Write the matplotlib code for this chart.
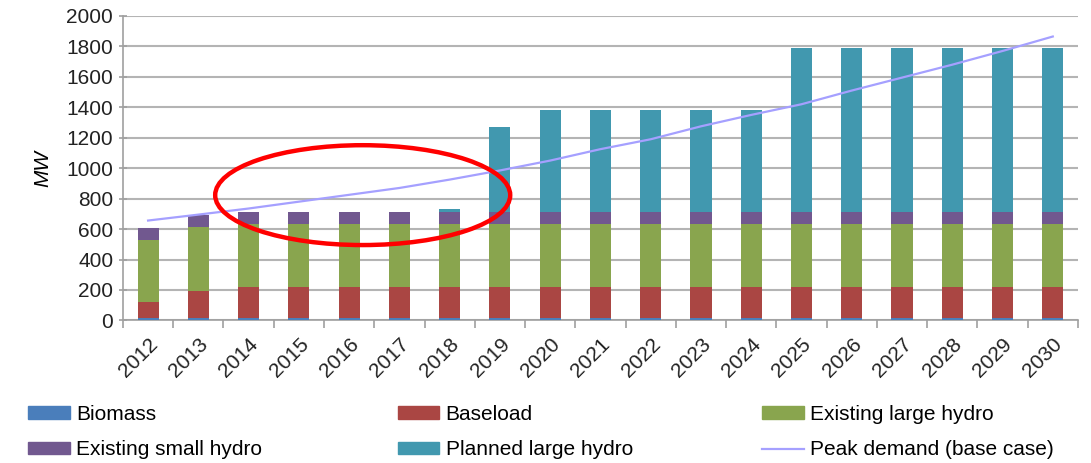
import numpy as np
import matplotlib
matplotlib.use("Agg")
import matplotlib.pyplot as plt
import matplotlib.transforms as mtrans
from matplotlib.patches import Ellipse, Patch
from matplotlib.lines import Line2D

plt.rcParams['font.family'] = ['Liberation Sans', 'DejaVu Sans']

# data (MW)
years = [str(y) for y in range(2012, 2031)]
biomass = [15] * 19
baseload = [105, 180] + [205] * 17
large_hydro = [410, 417] + [415] * 17
small_hydro = [75, 78] + [80] * 17
planned_hydro = [0] * 6 + [15, 555] + [665] * 5 + [1075] * 6
peak_demand = [656, 695, 735, 780, 825, 870, 925, 985, 1050, 1125,
               1190, 1275, 1350, 1420, 1510, 1595, 1680, 1770, 1865]

colors = {
    'Biomass': '#4a7ebb',
    'Baseload': '#aa4643',
    'Existing large hydro': '#89a54e',
    'Existing small hydro': '#71588f',
    'Planned large hydro': '#4198af',
}
peak_color = '#a5a0ff'

fig = plt.figure(figsize=(10.91, 4.63), dpi=100)
ax = fig.add_axes([0.1127, 0.308, 0.8753, 0.6575])

x = np.arange(len(years))
bottom = np.zeros(len(years))
series = [('Biomass', biomass), ('Baseload', baseload),
          ('Existing large hydro', large_hydro),
          ('Existing small hydro', small_hydro),
          ('Planned large hydro', planned_hydro)]
for name, vals in series:
    vals = np.array(vals)
    ax.bar(x, vals, 0.42, bottom=bottom, color=colors[name], zorder=3)
    bottom += vals

ax.plot(x, peak_demand, color=peak_color, lw=1.6, zorder=4)

# red ellipse highlighting the gap
ax.add_patch(Ellipse((4.27, 823), 5.87, 656, fill=False, edgecolor='#ff0000',
                     lw=3.2, zorder=5))

ax.set_xlim(-0.5, len(years) - 0.5)
ax.set_ylim(0, 2000)
ax.set_yticks(range(0, 2001, 200))
ax.yaxis.grid(True, color='#b4b4b4', lw=1.5, zorder=0)

ax.set_xticks(x)
ax.set_xticklabels(years, rotation=45, ha='right', rotation_mode='anchor',
                   fontsize=15, color='#222222')
shift = mtrans.ScaledTranslation(-0.12, 0.04, fig.dpi_scale_trans)
for lab in ax.get_xticklabels():
    lab.set_transform(lab.get_transform() + shift)
ax.set_xticks(np.arange(-0.5, len(years)), minor=True)
ax.tick_params(axis='x', which='major', length=0, pad=10)
ax.tick_params(axis='x', which='minor', length=6, color='#a0a0a0', width=1.2)
ax.tick_params(axis='y', length=6, color='#a0a0a0', width=1.2, labelsize=15,
               labelcolor='#222222', direction='inout', pad=4)

for s in ['top', 'right']:
    ax.spines[s].set_visible(False)
for s in ['left', 'bottom']:
    ax.spines[s].set_color('#a0a0a0')
    ax.spines[s].set_linewidth(1.2)

ax.set_ylabel('MW', fontsize=15, style='italic', labelpad=10)

# legend: three columns, two rows, placed like the original
h = {name: Patch(color=c) for name, c in colors.items()}
peak = Line2D([], [], color=peak_color, lw=1.6)
columns = [
    (0.018, [h['Biomass'], h['Existing small hydro']],
     ['Biomass', 'Existing small hydro']),
    (0.357, [h['Baseload'], h['Planned large hydro']],
     ['Baseload', 'Planned large hydro']),
    (0.691, [h['Existing large hydro'], peak],
     ['Existing large hydro', 'Peak demand (base case)']),
]
for xpos, hs, ls in columns:
    fig.legend(hs, ls, loc='upper left', bbox_to_anchor=(xpos, 0.143),
               borderaxespad=0, frameon=False, fontsize=15, handlelength=2.0,
               handleheight=0.55, handletextpad=0.3, labelspacing=0.78)

fig.savefig('out.png', dpi=100)
